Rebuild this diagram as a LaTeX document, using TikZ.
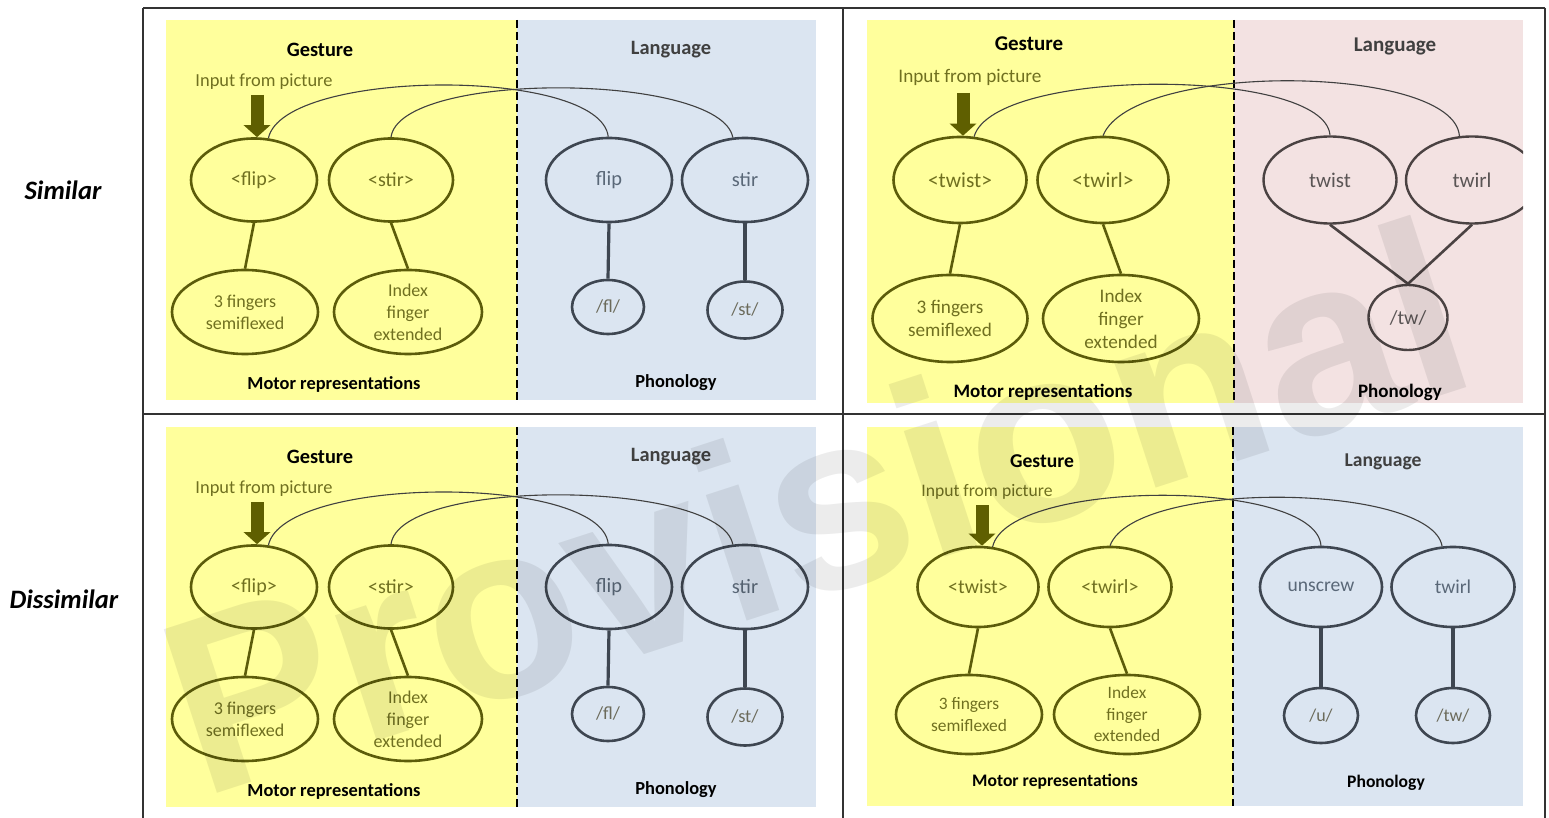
\documentclass[tikz,border=0pt]{standalone}
\usepackage{fontspec}
\setmainfont{Carlito}
\newfontfamily\wmfont{Liberation Sans}
\usetikzlibrary{shapes.geometric,arrows.meta}
\definecolor{gyellow}{HTML}{FFFF9C}
\definecolor{lblue}{HTML}{DBE5F1}
\definecolor{lpink}{HTML}{F3E2E2}
\definecolor{olivedark}{HTML}{5C5C0A}
\definecolor{olivetxt}{HTML}{707020}
\definecolor{arrowol}{HTML}{5F5F00}
\definecolor{slate}{HTML}{3E4651}
\definecolor{slatetxt}{HTML}{5A6878}
\definecolor{phontxt}{HTML}{6B6A5A}
\definecolor{rosestroke}{HTML}{4A4242}
\definecolor{rosetxt}{HTML}{5A5555}
\newcommand\fsz[2]{\fontsize{#1}{#2}\selectfont}
\tikzset{
  border/.style={draw=black!80, line width=1pt},
  divider/.style={draw=black, line width=1pt, dash pattern=on 4pt off 2pt},
  title/.style={inner sep=0pt, font=\bfseries\fsz{10.2}{12}},
  input/.style={inner sep=0pt, text=olivetxt, font=\fsz{9.2}{11}},
  gest/.style={ellipse, draw=olivedark, line width=1.3pt, text=olivetxt, inner sep=0pt, align=center},
  lang/.style={ellipse, draw=slate, line width=1.3pt, text=slatetxt, inner sep=0pt, align=center},
  phon/.style={ellipse, draw=slate, line width=1.3pt, text=phontxt, inner sep=0pt, align=center},
  rose/.style={ellipse, draw=rosestroke, line width=1.2pt, text=rosetxt, inner sep=0pt, align=center},
  olink/.style={draw=olivedark, line width=1.3pt},
  slink/.style={draw=slate, line width=1.6pt},
  rlink/.style={draw=rosestroke, line width=1.3pt},
  curve/.style={draw=black!75, line width=0.55pt},
  inarrow/.style={draw=arrowol, line width=6.5pt, -{Triangle[width=13pt,length=6pt]}},
  side/.style={inner sep=0pt, font=\bfseries\itshape\fsz{13.3}{16}}
}
\newcommand\flipstirpanel[2]{%
\begin{scope}[shift={(0,#2)}]
\fill[gyellow] (166,20) rectangle (517,400);
\fill[lblue] (517,20) rectangle (816,400);
\draw[divider] (517,20) -- (517,400);
\node[title] (#1gt) at (320,50) {Gesture};
\node[title,text=black!75] (#1lt) at (671,50) {Language};
\node[input] (#1in) at (264,82) {Input from picture};
\node[title,font=\bfseries\fsz{9.2}{11}] (#1mt) at (334,384) {Motor representations};
\node[title,font=\bfseries\fsz{9.2}{11}] (#1pt) at (676,383) {Phonology};
\node[gest,minimum width=63pt,minimum height=41.5pt,font=\fsz{10}{12}] (#1ga) at (254,180) {<flip>};
\node[gest,minimum width=62pt,minimum height=41.5pt,font=\fsz{10}{12}] (#1gb) at (391,180) {<stir>};
\node[gest,minimum width=73pt,minimum height=42pt,font=\fsz{9}{11}] (#1ma) at (245,312) {3 fingers\\semiflexed};
\node[gest,minimum width=74pt,minimum height=42pt,font=\fsz{9}{11}] (#1mb) at (408,312) {Index\\finger\\extended};
\node[lang,minimum width=63pt,minimum height=42pt,font=\fsz{10.2}{12}] (#1la) at (609,180) {flip};
\node[lang,minimum width=63pt,minimum height=42pt,font=\fsz{10.2}{12}] (#1lb) at (745,180) {stir};
\node[phon,minimum width=36pt,minimum height=27pt,font=\fsz{9.2}{11}] (#1pa) at (608,307) {/fl/};
\node[phon,minimum width=37.5pt,minimum height=28.5pt,font=\fsz{9.2}{11}] (#1pb) at (745,310) {/st/};
\draw[olink] (#1ga.south) -- (#1ma.north);
\draw[olink] (#1gb.south) -- (#1mb.north);
\draw[slink] (#1la.south) -- (#1pa.north);
\draw[slink] (#1lb.south) -- (#1pb.north);
\coordinate (#1at) at (257,95);
\draw[inarrow] (#1at) -- (#1at |- #1ga.north);
\draw[curve] (#1ga.71) .. controls +(15,-70) and +(-8,-70) .. (#1la.91);
\draw[curve] (#1gb.90) .. controls +(9,-67) and +(-12,-65) .. (#1lb.106);
\end{scope}}
\begin{document}
\begin{tikzpicture}[x=0.5pt,y=-0.5pt]
\useasboundingbox (0,0) rectangle (1549,818);
\fill[white] (0,0) rectangle (1549,818);
% table borders
\draw[border] (143,8) -- (1545,8);
\draw[border] (143,8) -- (143,818);
\draw[border] (1545,8) -- (1545,818);
\draw[border] (843,8) -- (843,818);
\draw[border] (143,414) -- (1545,414);
% row labels
\node[side] (sim) at (63,190) {Similar};
\node[side] (dis) at (64,599) {Dissimilar};
% panels 1 and 3
\flipstirpanel{a}{0}
\flipstirpanel{c}{407}
% panel 2 (similar, twist / twirl)
\fill[gyellow] (867,20) rectangle (1234,403);
\fill[lpink] (1234,20) rectangle (1523,403);
\draw[divider] (1234,20) -- (1234,403);
\node[title,font=\bfseries\fsz{10.5}{12}] (bgt) at (1029,44) {Gesture};
\node[title,font=\bfseries\fsz{10.5}{12},text=black!75] (blt) at (1395,46) {Language};
\node[input,font=\fsz{9.6}{11}] (bin) at (970,77) {Input from picture};
\node[title,font=\bfseries\fsz{9.5}{11}] (bmt) at (1043,392) {Motor representations};
\node[title,font=\bfseries\fsz{9.5}{11}] (bpt) at (1400,392) {Phonology};
\node[gest,minimum width=66.5pt,minimum height=43pt,font=\fsz{10.7}{12}] (bga) at (960,180) {<twist>};
\node[gest,minimum width=65.5pt,minimum height=43pt,font=\fsz{10.7}{12}] (bgb) at (1103,180) {<twirl>};
\node[gest,minimum width=77.5pt,minimum height=43.5pt,font=\fsz{9.6}{11.5}] (bma) at (950,318.5) {3 fingers\\semiflexed};
\node[gest,minimum width=78pt,minimum height=43.5pt,font=\fsz{9.6}{11.5}] (bmb) at (1121,318.5) {Index\\finger\\extended};
\begin{scope}
\clip (1234,20) rectangle (1523,403);
\node[rose,minimum width=66.5pt,minimum height=43.5pt,font=\fsz{10.5}{12}] (bla) at (1330,180) {twist};
\node[rose,minimum width=66pt,minimum height=43.5pt,font=\fsz{10.5}{12}] (blb) at (1472,180) {twirl};
\end{scope}
\node[rose,minimum width=39.5pt,minimum height=32.5pt,font=\fsz{10}{12}] (bp) at (1408,317.5) {/tw/};
\draw[olink] (bga.south) -- (bma.north);
\draw[olink] (bgb.south) -- (bmb.north);
\draw[rlink] (bla.south) -- (bp.north);
\draw[rlink] (blb.south) -- (bp.north);
\coordinate (bat) at (963,93);
\draw[inarrow] (bat) -- (bat |- bga.north);
\draw[curve] (bga.72) .. controls +(20,-70) and +(-5,-68) .. (bla.90);
\draw[curve] (bgb.90) .. controls +(30,-75) and +(-5,-72) .. (blb.106);
% panel 4 (dissimilar, twist / unscrew)
\fill[gyellow] (867,427) rectangle (1233,806);
\fill[lblue] (1233,427) rectangle (1523,806);
\draw[divider] (1233,427) -- (1233,806);
\node[title,font=\bfseries\fsz{9.8}{12}] (dgt) at (1042,461) {Gesture};
\node[title,font=\bfseries\fsz{9.8}{12},text=black!75] (dlt) at (1383,462) {Language};
\node[input,font=\fsz{8.8}{11}] (din) at (987,492) {Input from picture};
\node[title,font=\bfseries\fsz{8.8}{11}] (dmt) at (1055,782) {Motor representations};
\node[title,font=\bfseries\fsz{8.8}{11}] (dpt) at (1386,783) {Phonology};
\node[gest,minimum width=60.5pt,minimum height=40pt,font=\fsz{10}{12}] (dga) at (978,587) {<twist>};
\node[gest,minimum width=61.5pt,minimum height=40pt,font=\fsz{10}{12}] (dgb) at (1110,587) {<twirl>};
\node[gest,minimum width=73pt,minimum height=39.5pt,font=\fsz{8.7}{10.75}] (dma) at (969,714.5) {3 fingers\\semiflexed};
\node[gest,minimum width=73pt,minimum height=39.5pt,font=\fsz{8.7}{10.75}] (dmb) at (1127,714.5) {Index\\finger\\extended};
\node[lang,minimum width=61pt,minimum height=40pt,font=\fsz{9.8}{12}] (dla) at (1321,587) {unscrew};
\node[lang,minimum width=61.5pt,minimum height=40pt,font=\fsz{9.8}{12}] (dlb) at (1453,587) {twirl};
\node[phon,minimum width=37pt,minimum height=27.5pt,font=\fsz{9}{11}] (dpa) at (1321,715.5) {/u/};
\node[phon,minimum width=37pt,minimum height=27.5pt,font=\fsz{9}{11}] (dpb) at (1453,715.5) {/tw/};
\draw[olink] (dga.south) -- (dma.north);
\draw[olink] (dgb.south) -- (dmb.north);
\draw[slink] (dla.south) -- (dpa.north);
\draw[slink] (dlb.south) -- (dpb.north);
\coordinate (dat) at (982,505);
\draw[inarrow] (dat) -- (dat |- dga.north);
\draw[curve] (dga.70) .. controls +(15,-68) and +(-5,-68) .. (dla.90);
\draw[curve] (dgb.90) .. controls +(25,-67) and +(-10,-63) .. (dlb.105);
% watermark
\node[rotate=18, inner sep=0pt, text=black, opacity=0.075, font=\wmfont\bfseries\fsz{125}{125}] (wm) at (815,505) {Provisional};
\end{tikzpicture}
\end{document}
